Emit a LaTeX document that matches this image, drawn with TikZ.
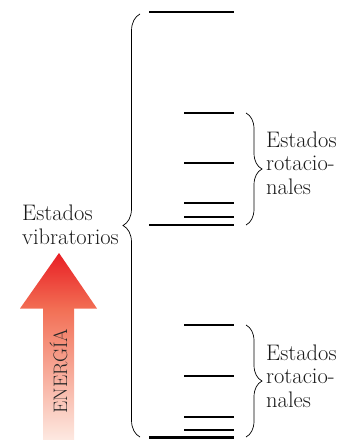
\documentclass[tikz,border=0pt]{standalone}
\usepackage{fontspec}
\usepackage{tikz}
\usetikzlibrary{calc,decorations.pathreplacing}
\definecolor{arrowtop}{RGB}{232, 30, 36}
\definecolor{arrowmid}{RGB}{242, 110, 84}
\definecolor{arrowbot}{RGB}{253, 232, 224}
\tikzset{
  level/.style={line width=2.6pt},
  bigbrace/.style={decorate, decoration={brace, amplitude=17pt}, line width=0.7pt},
  smallbrace/.style={decorate, decoration={brace, amplitude=16pt}, line width=0.7pt},
  statetext/.style={align=left, inner sep=0pt, text=black!90, font=\fontsize{22.5}{23.5}\selectfont}
}

\begin{document}
\begin{tikzpicture}[x=1pt, y=-1pt]
    \useasboundingbox (0,0) rectangle (353,441);

    % Vibrational levels (long lines)
    \draw[level] (149,12) -- (234,12);
    \draw[level] (149,225) -- (234,225);
    \draw[level] (149,437.5) -- (234,437.5);

    % Rotational levels, upper group
    \draw[level] (184,113) -- (234,113);
    \draw[level] (184,163) -- (234,163);
    \draw[level] (184,203) -- (234,203);
    \draw[level] (184,217) -- (234,217);

    % Rotational levels, lower group
    \draw[level] (184,325) -- (234,325);
    \draw[level] (184,376) -- (234,376);
    \draw[level] (184,417) -- (234,417);
    \draw[level] (184,430) -- (234,430);

    % Brace ends
    \coordinate (vibTop) at (140,14);
    \coordinate (vibBot) at (140,437);
    \coordinate (rotAtop) at (246,113);
    \coordinate (rotAbot) at (246,225);
    \coordinate (rotBtop) at (246,325);
    \coordinate (rotBbot) at (246,437);

    % Braces
    \draw[bigbrace] (vibBot) -- (vibTop);
    \draw[smallbrace] (rotAtop) -- (rotAbot);
    \draw[smallbrace] (rotBtop) -- (rotBbot);

    % Labels
    \node[statetext, anchor=east] (vibText) at (119,225) {Estados\\vibratorios};
    \node[statetext, anchor=west] (rotAText) at (266,163) {Estados\\rotacio-\\nales};
    \node[statetext, anchor=west] (rotBText) at (266,376) {Estados\\rotacio-\\nales};

    % Energy arrow: head and shaft shaded apart
    \shade[top color=arrowtop, bottom color=arrowmid]
        (59,253) -- (97,308.5) -- (20,308.5) -- cycle;
    \shade[top color=arrowmid, bottom color=arrowbot]
        (43,308) rectangle (74,439);
    \node[rotate=90, inner sep=0pt, text=black!85, font=\fontsize{19.5}{22}\selectfont\addfontfeature{LetterSpace=15}] (energy) at (58.5,371) {ENERGÍA};
\end{tikzpicture}
\end{document}
